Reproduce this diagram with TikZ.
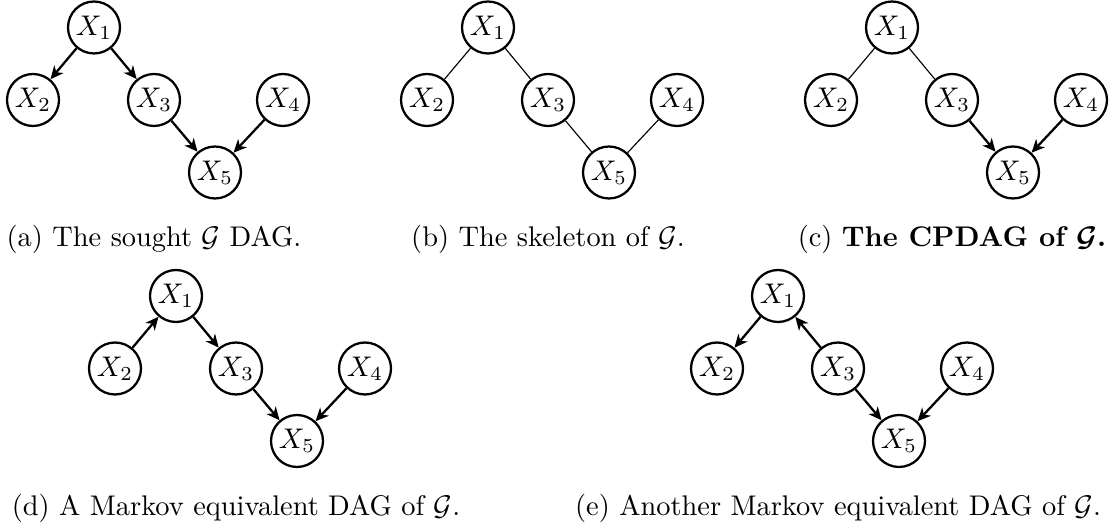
\documentclass[tikz,border=0pt]{standalone}
\usepackage{amssymb}
\usepackage{mathtools}
\usetikzlibrary{arrows.meta}

\begin{document}
\begin{tikzpicture}[x=0.3521pt,y=-0.3521pt,
    main_node/.style={circle,draw,thick,minimum size=18.3pt,inner sep=0pt},
    cap_node/.style={anchor=base,inner sep=0pt},
    >={Stealth[length=4.6pt,width=4.2pt,inset=1.4pt]}]

    \useasboundingbox (0,0) rectangle (1120,530);

% (a) the DAG
\begin{scope}[shift={(33,27.5)}]
    \node[main_node] (a1) at (61,0) {$X_1$};
    \node[main_node] (a2) at (0,72.5) {$X_2$};
    \node[main_node] (a3) at (121,72.5) {$X_3$};
    \node[main_node] (a4) at (250,72.5) {$X_4$};
    \node[main_node] (a5) at (182,145) {$X_5$};
    \begin{scope}[every path/.style={->,thick}]
    \draw (a1) -- (a2);
    \draw (a1) -- (a3);
    \draw (a3) -- (a5);
    \draw (a4) -- (a5);
    \end{scope}
    \node[cap_node] (acap) at (121,219.5) {(a) The sought $\mathcal{G}$ DAG.};
\end{scope}

% (b) skeleton
\begin{scope}[shift={(427,27.5)}]
    \node[main_node] (b1) at (61,0) {$X_1$};
    \node[main_node] (b2) at (0,72.5) {$X_2$};
    \node[main_node] (b3) at (121,72.5) {$X_3$};
    \node[main_node] (b4) at (250,72.5) {$X_4$};
    \node[main_node] (b5) at (182,145) {$X_5$};
    \begin{scope}[every path/.style={thin}]
    \draw (b1) -- (b2);
    \draw (b1) -- (b3);
    \draw (b3) -- (b5);
    \draw (b4) -- (b5);
    \end{scope}
    \node[cap_node] (bcap) at (121,219.5) {(b) The skeleton of $\mathcal{G}$.};
\end{scope}

% (c) CPDAG
\begin{scope}[shift={(831,27.5)}]
    \node[main_node] (c1) at (61,0) {$X_1$};
    \node[main_node] (c2) at (0,72.5) {$X_2$};
    \node[main_node] (c3) at (121,72.5) {$X_3$};
    \node[main_node] (c4) at (250,72.5) {$X_4$};
    \node[main_node] (c5) at (182,145) {$X_5$};
    \begin{scope}[every path/.style={thin}]
    \draw (c1) -- (c2);
    \draw (c1) -- (c3);
    \end{scope}
    \begin{scope}[every path/.style={->,thick}]
    \draw (c3) -- (c5);
    \draw (c4) -- (c5);
    \end{scope}
    \node[cap_node] (ccap) at (121,219.5) {(c) {\bfseries\boldmath The CPDAG of $\mathcal{G}$.}};
\end{scope}

% (d) equivalent DAG
\begin{scope}[shift={(115,296)}]
    \node[main_node] (d1) at (61,0) {$X_1$};
    \node[main_node] (d2) at (0,72.5) {$X_2$};
    \node[main_node] (d3) at (121,72.5) {$X_3$};
    \node[main_node] (d4) at (250,72.5) {$X_4$};
    \node[main_node] (d5) at (182,145) {$X_5$};
    \begin{scope}[every path/.style={->,thick}]
    \draw (d2) -- (d1);
    \draw (d1) -- (d3);
    \draw (d3) -- (d5);
    \draw (d4) -- (d5);
    \end{scope}
    \node[cap_node] (dcap) at (121,219.5) {(d) A Markov equivalent DAG of $\mathcal{G}$.};
\end{scope}

% (e) another equivalent DAG
\begin{scope}[shift={(717,296)}]
    \node[main_node] (e1) at (61,0) {$X_1$};
    \node[main_node] (e2) at (0,72.5) {$X_2$};
    \node[main_node] (e3) at (121,72.5) {$X_3$};
    \node[main_node] (e4) at (250,72.5) {$X_4$};
    \node[main_node] (e5) at (182,145) {$X_5$};
    \begin{scope}[every path/.style={->,thick}]
    \draw (e1) -- (e2);
    \draw (e3) -- (e1);
    \draw (e3) -- (e5);
    \draw (e4) -- (e5);
    \end{scope}
    \node[cap_node] (ecap) at (121,219.5) {(e) Another Markov equivalent DAG of $\mathcal{G}$.};
\end{scope}
\end{tikzpicture}
\end{document}
